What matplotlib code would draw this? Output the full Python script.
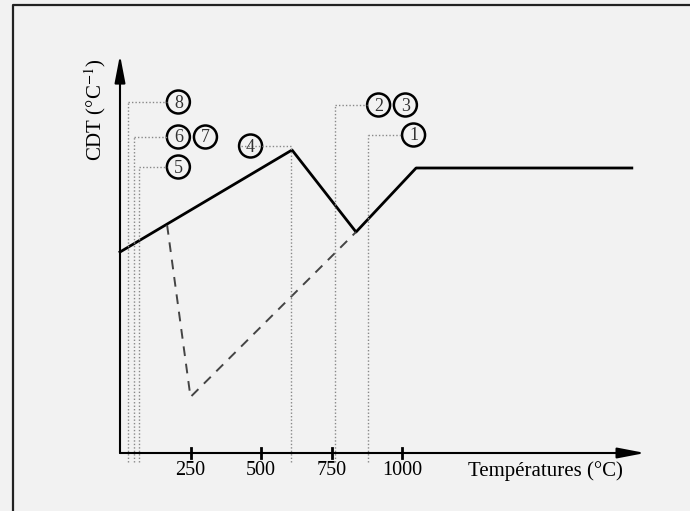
import matplotlib.pyplot as plt
from matplotlib.patches import Ellipse

plt.rcParams['font.family'] = ['Liberation Serif', 'DejaVu Serif']
plt.rcParams['mathtext.fontset'] = 'stix'

# courbe principale (trait plein)
temp_solid = [0, 610, 837, 1050, 1815]
cdt_solid = [2.01, 3.03, 2.21, 2.85, 2.85]

# courbe en tirets
temp_dash = [167, 250, 837]
cdt_dash = [2.28, 0.56, 2.21]

# repères numérotés : (position du trait pointillé, hauteur, étiquettes, position des cercles)
mark_temp = [881, 761, 605, 69, 51, 30]
mark_cdt = [3.18, 3.48, 3.07, 2.86, 3.16, 3.51]
mark_labels = [["1"], ["2", "3"], ["4"], ["5"], ["6", "7"], ["8"]]
mark_circle_temp = [[1041], [917, 1012], [463], [207], [207, 303], [207]]

x_ticks = [250, 500, 750, 1000]

# échelle : 1 °C = 0.282 px, 1 unité CDT = 100 px
px_x = 0.282
px_y = 100.0
x0 = 120.0   # pixel de l'origine (depuis la gauche)
y0 = 58.0    # pixel de l'origine (depuis le bas)

fig = plt.figure(figsize=(6.9, 5.11), dpi=100)
fig.patch.set_facecolor('#f2f2f2')
ax = fig.add_axes([0, 0, 1, 1])
ax.set_facecolor('#f2f2f2')
ax.set_xlim(-x0 / px_x, (690 - x0) / px_x)
ax.set_ylim(-y0 / px_y, (511 - y0) / px_y)
ax.axis('off')

# cadre
ax.plot([(13 - x0) / px_x, (13 - x0) / px_x, (700 - x0) / px_x],
        [-1.0, (506 - y0) / px_y, (506 - y0) / px_y], color='#222222', lw=1.6, clip_on=False)

# axes avec flèches
arrow = dict(arrowstyle='-|>,head_length=0.83,head_width=0.16', color='black', lw=1.5,
             mutation_scale=20, shrinkA=0, shrinkB=0)
ax.annotate('', xy=(1862, 0), xytext=(0, 0), arrowprops=arrow)
ax.annotate('', xy=(0, 3.98), xytext=(0, 0), arrowprops=arrow)

for t in x_ticks:
    ax.plot([t, t], [-0.05, 0.05], color='black', lw=2)
    ax.text(t, -0.08, str(t), ha='center', va='top', fontsize=14.5)

ax.text(1510, -0.08, 'Températures (°C)', ha='center', va='top', fontsize=15)
ax.text(-88, 3.43, 'CDT (°C$^{-1}$)', ha='center', va='center', rotation=90, fontsize=15)

# courbes
ax.plot(temp_solid, cdt_solid, color='black', lw=2)
ax.plot(temp_dash, cdt_dash, color='#444444', lw=1.4, dashes=(5, 4))

# traits pointillés et cercles numérotés
r_x = 11.5 / px_x
r_y = 11.5 / px_y
for t, c, labs, cts in zip(mark_temp, mark_cdt, mark_labels, mark_circle_temp):
    ax.plot([t, t], [-0.09, c], color='#888888', lw=1, ls=(0, (1, 1.5)))
    ax.plot([t, cts[0] - r_x], [c, c], color='#888888', lw=1, ls=(0, (1, 1.5)))
    for lab, ct in zip(labs, cts):
        ax.add_patch(Ellipse((ct, c), 2 * r_x, 2 * r_y, fill=False, ec='black', lw=1.8))
        ax.text(ct, c - 0.01, lab, ha='center', va='center', fontsize=13, color='#333333')

fig.savefig('out.png', dpi=100, facecolor=fig.get_facecolor())
